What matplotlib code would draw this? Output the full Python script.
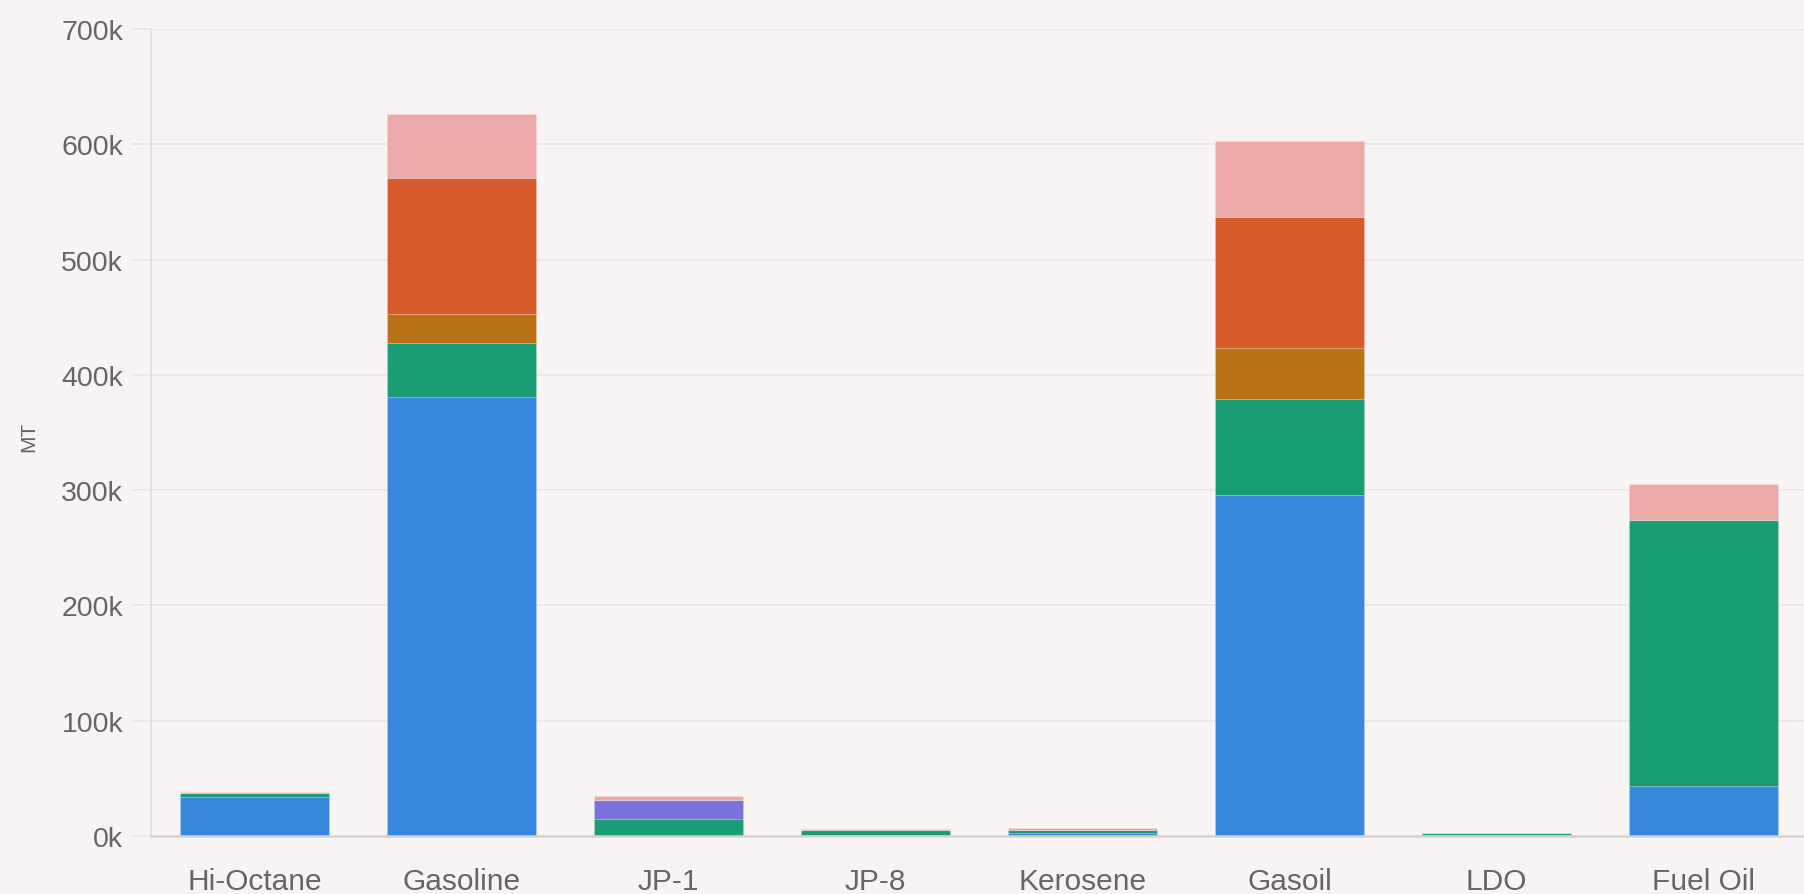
import numpy as np
import matplotlib.pyplot as plt
from matplotlib.ticker import FuncFormatter

# categories and stacked series (thousand MT), bottom to top
products = ["Hi-Octane", "Gasoline", "JP-1", "JP-8", "Kerosene", "Gasoil", "LDO", "Fuel Oil"]

blue   = [34.0, 381.0,  0.0, 0.6, 2.5, 296.0, 1.2,  43.0]
green  = [ 3.0,  47.0, 15.0, 5.0, 3.0,  83.0, 1.2, 231.0]
purple = [ 0.0,   0.0, 16.0, 0.0, 0.0,   0.0, 0.0,   0.0]
brown  = [ 0.0,  25.0,  0.0, 0.0, 0.0,  44.0, 0.0,   0.0]
orange = [ 0.0, 118.0,  0.0, 0.0, 0.0, 114.0, 0.0,   0.0]
pink   = [ 1.5,  55.0,  4.0, 0.4, 1.2,  66.0, 0.0,  31.0]

series = [blue, green, purple, brown, orange, pink]
colors = ["#3787DC", "#1A9C74", "#7B72D9", "#B87114", "#D75A2B", "#EBAAA7"]

BG = "#F7F4F3"
GRID = "#EAE6E5"
TEXT = "#666666"

plt.rcParams["font.family"] = ["Liberation Sans", "DejaVu Sans"]

fig = plt.figure(figsize=(18.04, 8.95), dpi=100, facecolor=BG)
ax = fig.add_axes([0.0837, 0.0648, 0.9163, 0.9017], facecolor=BG)

x = np.arange(len(products))
bottom = np.zeros(len(products))
for vals, col in zip(series, colors):
    v = np.array(vals) * 1000
    ax.bar(x, v, width=0.72, bottom=bottom, color=col,
           edgecolor=(1, 1, 1, 0.15), linewidth=0.8, zorder=3)
    bottom += v

ax.set_xlim(-0.5, 7.485)
ax.set_ylim(0, 700000)
ax.set_yticks(np.arange(0, 700001, 100000))
ax.yaxis.set_major_formatter(FuncFormatter(lambda v, _: f"{int(v / 1000)}k"))
ax.set_xticks(x)
ax.set_xticklabels(products)

ax.grid(axis="y", color=GRID, linewidth=1.3, zorder=0)
ax.tick_params(axis="y", length=14, width=1.3, color=GRID, pad=6,
               labelsize=20.5, labelcolor=TEXT)
ax.tick_params(axis="x", length=0, pad=22, labelsize=21.5, labelcolor=TEXT)

for side in ["top", "right"]:
    ax.spines[side].set_visible(False)
ax.spines["left"].set_color("#E2DEDD")
ax.spines["left"].set_linewidth(1.3)
ax.spines["bottom"].set_color("#D6D2D1")
ax.spines["bottom"].set_linewidth(1.8)
ax.spines["bottom"].set_zorder(4)

# axis title placed in figure coordinates so it stays inside the canvas
fig.text(29 / 1804, 1 - 437 / 895, "MT", rotation=90, fontsize=15,
         color=TEXT, ha="center", va="center")

plt.savefig("out.png", dpi=100, facecolor=BG)
